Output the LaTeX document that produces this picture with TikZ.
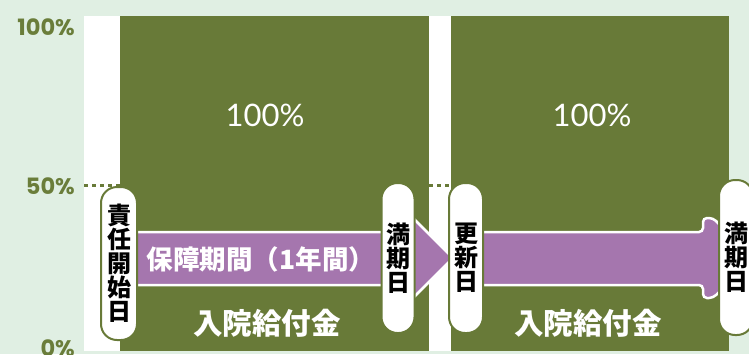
\documentclass[tikz,border=0pt]{standalone}
\usepackage{fontspec}
\newfontfamily\cjk{Noto Sans CJK JP}
\newfontfamily\pop{Poppins}
\newfontfamily\lat{Lato}
\definecolor{bgc}{RGB}{224,239,227}
\definecolor{blk}{RGB}{104,122,56}
\definecolor{axc}{RGB}{106,125,58}
\definecolor{pur}{RGB}{165,118,174}
\tikzset{
  axislbl/.style={anchor=east, text=axc, font=\pop\bfseries\fontsize{22.5pt}{24pt}\selectfont, inner sep=0pt},
  dotln/.style={blk, line width=3pt, dash pattern=on 4pt off 4pt},
  pill/.style={draw=blk, fill=white, line width=2pt, rounded corners=16pt, inner sep=0pt,
    minimum width=34pt, align=center, text=black,
    font=\cjk\bfseries\fontsize{24pt}{24pt}\selectfont},
  arrowshape/.style={fill=pur, draw=white, line width=2.5pt},
  pct/.style={text=white, font=\lat\fontsize{31pt}{34pt}\selectfont, inner sep=0pt},
  wlbl/.style={text=white, font=\cjk\bfseries\fontsize{29.5pt}{30pt}\selectfont, inner sep=0pt},
  arrlbl/.style={text=white, font=\cjk\bfseries\fontsize{26.5pt}{27pt}\selectfont, inner sep=0pt}
}
\begin{document}
\begin{tikzpicture}[x=1pt,y=-1pt]
\useasboundingbox (0,0) rectangle (749,354);
\fill[bgc] (0,0) rectangle (749,354);
\fill[white] (84,16) rectangle (729,351);
\fill[blk] (120,16) rectangle (429,351);
\fill[blk] (451,16) rectangle (729,351);
% dotted 50% lines
\coordinate (d1a) at (84,185);
\coordinate (d1b) at (120,185);
\coordinate (d2a) at (429,185);
\coordinate (d2b) at (451,185);
\draw[dotln] (d1a) -- (d1b);
\draw[dotln] (d2a) -- (d2b);
% axis labels
\node[axislbl] (l100) at (75,27) {100\%};
\node[axislbl] (l50) at (75,186) {50\%};
\node[axislbl] (l0) at (75,348) {0\%};
% percentage labels
\node[pct] (pc1) at (265,115) {100\%};
\node[pct] (pc2) at (592,115) {100\%};
% arrows
\draw[arrowshape] (130,232) -- (413,232) -- (413,218) -- (453,258) -- (413,298) -- (413,285) -- (130,285) -- cycle;
\draw[arrowshape, rounded corners=4pt] (478,232) -- (703,232) -- (703,218) -- (713,218) -- (753,258) -- (713,298) -- (703,298) -- (703,285) -- (478,285) -- cycle;
\node[arrlbl] (per) at (261,259) {保障期間（1年間）};
% benefit labels
\node[wlbl] (nb1) at (267,323) {入院給付金};
\node[wlbl] (nb2) at (588,323) {入院給付金};
% pills
\node[pill, minimum width=36pt, minimum height=153pt] (p1) at (119,263.5) {責\\任\\開\\始\\日};
\node[pill, minimum width=33pt, minimum height=150pt] (p2) at (398,258) {満\\期\\日};
\node[pill, minimum height=150pt] (p3) at (466,258) {更\\新\\日};
\node[pill, minimum height=155pt] (p4) at (736,257.5) {満\\期\\日};
\end{tikzpicture}
\end{document}
